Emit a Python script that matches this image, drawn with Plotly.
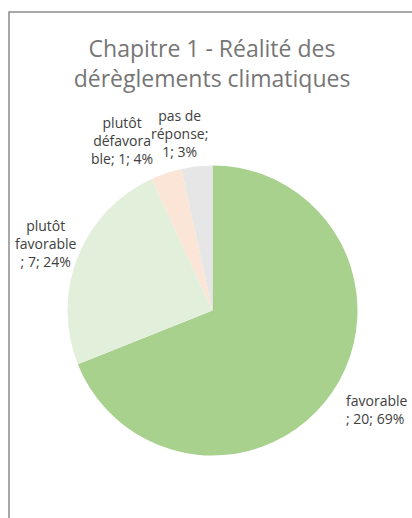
import plotly.graph_objects as go

categories = ["favorable", "plutôt favorable", "plutôt défavorable", "pas de réponse"]
values = [20, 7, 1, 1]
label_text = ["favorable<br>; 20; 69%", "plutôt<br>favorable<br>; 7; 24%",
              "plutôt<br>défavora<br>ble; 1; 4%", "pas de<br>réponse;<br>1; 3%"]
colors = ["#A9D18E", "#E2EFDA", "#FBE5D6", "#E7E6E6"]

# label placement (pixel anchor, x-anchor) for each category, Excel-style
label_pos = [(344, 409, "left"), (46, 243, "center"), (122, 140, "center"), (179, 133, "center")]

W, H = 412, 518
cx, cy, r = 212.5, 310.5, 145

fig = go.Figure(go.Pie(
    labels=categories,
    values=values,
    textinfo="none",
    marker=dict(colors=colors, line=dict(width=0)),
    sort=False,
    direction="clockwise",
    rotation=0,
    showlegend=False,
    hoverinfo="label+value+percent",
    domain=dict(x=[(cx - r) / W, (cx + r) / W], y=[1 - (cy + r) / H, 1 - (cy - r) / H]),
))

for txt, (px, py, xa) in zip(label_text, label_pos):
    fig.add_annotation(
        text=txt, xref="paper", yref="paper",
        x=px / W, y=1 - py / H, xanchor=xa, yanchor="middle",
        showarrow=False, align="left" if xa == "left" else "center",
        font=dict(family="Open Sans, sans-serif", size=14, color="#404040"),
    )

fig.update_layout(
    width=W, height=H,
    margin=dict(l=0, r=0, t=0, b=0),
    paper_bgcolor="white",
    title=dict(
        text="Chapitre 1 - Réalité des<br>dérèglements climatiques",
        x=212 / W, xanchor="center",
        y=1 - 57 / H, yanchor="top",
        font=dict(family="Open Sans, sans-serif", size=23, color="#767676"),
    ),
    shapes=[dict(type="rect", xref="paper", yref="paper",
                 x0=9 / W, x1=1.1, y0=-0.1, y1=1 - 12 / H,
                 line=dict(color="#8C8C8C", width=1.5))],
)

fig.write_html("out.html", config={"displayModeBar": False},
               post_script="document.body.style.margin='0';document.body.style.padding='0';")
